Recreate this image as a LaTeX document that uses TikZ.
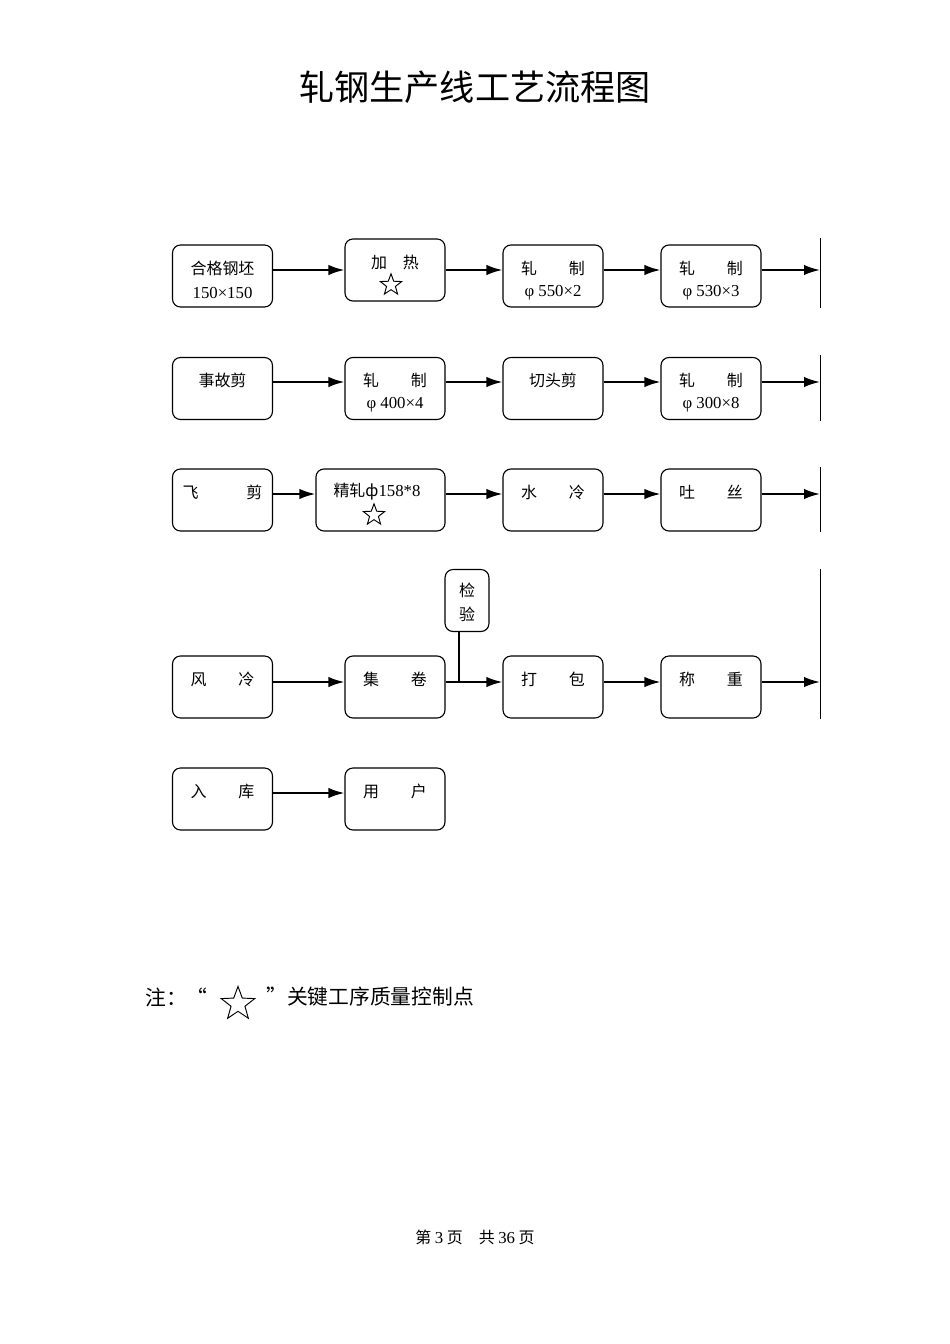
\documentclass[tikz,border=0pt]{standalone}
\usepackage{fontspec}
\setmainfont{Liberation Serif}
\newfontfamily\cjk{Noto Sans CJK SC}
\usetikzlibrary{arrows.meta,shapes.geometric,positioning}
\newcommand{\lat}[1]{{\rmfamily\fontsize{10.5}{12}\selectfont #1}}
\tikzset{
  box/.style={draw,rounded corners=5pt,line width=0.7pt,minimum width=62.6pt,minimum height=38.8pt,inner sep=0pt},
  txt/.style={font=\cjk\fontsize{10}{12}\selectfont,inner sep=0pt},
  flow/.style={line width=1.2pt,-{Latex[length=10pt,width=6.5pt]}},
  mark/.style={star,star points=5,star point ratio=2.4,draw,line width=0.6pt,minimum size=#1,inner sep=0pt},
  edge/.style={line width=0.6pt}
}
\begin{document}
\begin{tikzpicture}[x=0.626pt,y=-0.626pt]
    \useasboundingbox (0,0) rectangle (950,1344);
    \node[font=\cjk\fontsize{22}{26}\selectfont] (title) at (475,87) {轧钢生产线工艺流程图};
    % row 1
    \node[box] (a1) at (222.5,276) {};
    \node[box] (a2) at (395,270) {};
    \node[box] (a3) at (553,276) {};
    \node[box] (a4) at (711,276) {};
    \node[txt] (ta1) at (222.5,268) {合格钢坯};
    \node[txt] (ua1) at (222.5,293) {\lat{150×150}};
    \node[txt] (ta2) at (395,262) {加\quad 热};
    \node[mark=14pt] (s1) at (391,285) {};
    \node[txt] (ta3) at (553,268) {轧\qquad 制};
    \node[txt] (ua3) at (553,293) {\lat{φ 550×2}};
    \node[txt] (ta4) at (711,268) {轧\qquad 制};
    \node[txt] (ua4) at (711,293) {\lat{φ 530×3}};
    \coordinate (e1) at (820,270);
    \draw[edge] (820,238) -- (820,308);
    \draw[flow] (a1.east |- 0,270) -- (a2.west |- 0,270);
    \draw[flow] (a2.east |- 0,270) -- (a3.west |- 0,270);
    \draw[flow] (a3.east |- 0,270) -- (a4.west |- 0,270);
    \draw[flow] (a4.east |- 0,270) -- (e1);
    % row 2
    \node[box] (b1) at (222.5,388.5) {};
    \node[box] (b2) at (395,388.5) {};
    \node[box] (b3) at (553,388.5) {};
    \node[box] (b4) at (711,388.5) {};
    \node[txt] (tb1) at (222.5,380) {事故剪};
    \node[txt] (tb2) at (395,380) {轧\qquad 制};
    \node[txt] (ub2) at (395,405) {\lat{φ 400×4}};
    \node[txt] (tb3) at (553,380) {切头剪};
    \node[txt] (tb4) at (711,380) {轧\qquad 制};
    \node[txt] (ub4) at (711,405) {\lat{φ 300×8}};
    \coordinate (e2) at (820,382);
    \draw[edge] (820,355) -- (820,421);
    \draw[flow] (b1.east |- 0,382) -- (b2.west |- 0,382);
    \draw[flow] (b2.east |- 0,382) -- (b3.west |- 0,382);
    \draw[flow] (b3.east |- 0,382) -- (b4.west |- 0,382);
    \draw[flow] (b4.east |- 0,382) -- (e2);
    % row 3
    \node[box] (c1) at (222.5,500) {};
    \node[box,minimum width=80.8pt] (c2) at (380.5,500) {};
    \node[box] (c3) at (553,500) {};
    \node[box] (c4) at (711,500) {};
    \node[txt] (tc1) at (222.5,492) {飞\qquad\quad 剪};
    \node[txt] (tc2) at (377,492) {精轧ф\lat{158*8}};
    \node[mark=14pt] (s2) at (374,515) {};
    \node[txt] (tc3) at (553,492) {水\qquad 冷};
    \node[txt] (tc4) at (711,492) {吐\qquad 丝};
    \coordinate (e3) at (820,494);
    \draw[edge] (820,467) -- (820,532);
    \draw[flow] (c1.east |- 0,494) -- (c2.west |- 0,494);
    \draw[flow] (c2.east |- 0,494) -- (c3.west |- 0,494);
    \draw[flow] (c3.east |- 0,494) -- (c4.west |- 0,494);
    \draw[flow] (c4.east |- 0,494) -- (e3);
    % row 4
    \node[box,minimum width=27.5pt] (chk) at (467,600.5) {};
    \node[txt,align=center] (tchk) at (467,602) {检\\[3pt]验};
    \node[box] (d1) at (222.5,687) {};
    \node[box] (d2) at (395,687) {};
    \node[box] (d3) at (553,687) {};
    \node[box] (d4) at (711,687) {};
    \node[txt] (td1) at (222.5,679) {风\qquad 冷};
    \node[txt] (td2) at (395,679) {集\qquad 卷};
    \node[txt] (td3) at (553,679) {打\qquad 包};
    \node[txt] (td4) at (711,679) {称\qquad 重};
    \coordinate (j) at (459,682);
    \coordinate (e4) at (820,682);
    \draw[edge] (820,569) -- (820,719);
    \draw[line width=1.2pt] (chk.south -| j) -- (j);
    \draw[flow] (d1.east |- 0,682) -- (d2.west |- 0,682);
    \draw[flow] (d2.east |- 0,682) -- (d3.west |- 0,682);
    \draw[flow] (d3.east |- 0,682) -- (d4.west |- 0,682);
    \draw[flow] (d4.east |- 0,682) -- (e4);
    % row 5
    \node[box] (f1) at (222.5,799) {};
    \node[box] (f2) at (395,799) {};
    \node[txt] (tf1) at (222.5,791) {入\qquad 库};
    \node[txt] (tf2) at (395,791) {用\qquad 户};
    \draw[flow] (f1.east |- 0,793) -- (f2.west |- 0,793);
    % note and footer
    \node[font=\cjk\fontsize{13}{15}\selectfont,anchor=west,inner sep=0pt] (n1) at (145,997) {注：“};
    \node[mark=22pt] (s3) at (238,1004) {};
    \node[font=\cjk\fontsize{13}{15}\selectfont,anchor=west,inner sep=0pt] (n2) at (266,997) {”关键工序质量控制点};
    \node[font=\cjk\fontsize{10}{12}\selectfont] (foot) at (475,1237) {第 \lat{3} 页\quad 共 \lat{36} 页};
\end{tikzpicture}
\end{document}
